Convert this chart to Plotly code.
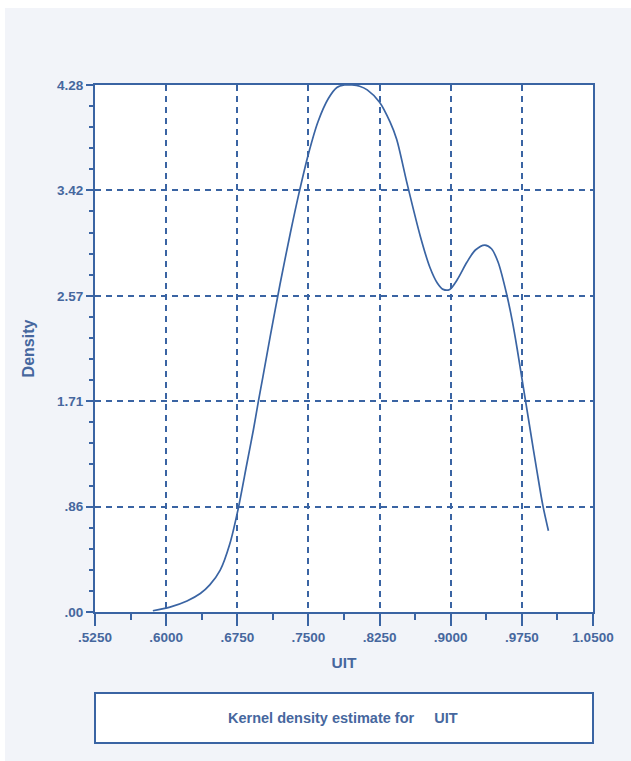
import plotly.graph_objects as go

# Kernel density estimate for UIT
uit = [0.586, 0.604, 0.622, 0.636, 0.646, 0.657, 0.667, 0.676, 0.685, 0.692,
       0.697, 0.702, 0.710, 0.720, 0.731, 0.740, 0.750, 0.760, 0.771, 0.780,
       0.788, 0.796, 0.804, 0.812, 0.825, 0.836, 0.843, 0.854, 0.868, 0.878,
       0.886, 0.892, 0.899, 0.907, 0.917, 0.926, 0.936, 0.943, 0.950, 0.959,
       0.965, 0.970, 0.975, 0.984, 0.991, 0.997, 1.003]
density = [0.01, 0.04, 0.09, 0.15, 0.22, 0.34, 0.55, 0.84, 1.20, 1.48,
           1.70, 1.91, 2.25, 2.66, 3.08, 3.40, 3.72, 3.98, 4.17, 4.26,
           4.28, 4.28, 4.27, 4.24, 4.14, 3.98, 3.84, 3.48, 3.05, 2.80,
           2.67, 2.62, 2.62, 2.70, 2.84, 2.94, 2.98, 2.95, 2.84, 2.58,
           2.36, 2.14, 1.90, 1.47, 1.14, 0.87, 0.66]

x_ticks = [0.525, 0.600, 0.675, 0.750, 0.825, 0.900, 0.975, 1.050]
x_labels = [".5250", ".6000", ".6750", ".7500", ".8250", ".9000", ".9750", "1.0500"]
y_ticks = [0.0, 0.856, 1.712, 2.568, 3.424, 4.28]
y_labels = [".00", ".86", "1.71", "2.57", "3.42", "4.28"]

BLUE = "#3a64a3"
TEXT = "#46679e"
BG = "#f2f4f9"
FONT = "Liberation Sans, Arial, sans-serif"

fig = go.Figure()
fig.add_trace(go.Scatter(x=uit, y=density, mode="lines",
                         line=dict(color=BLUE, width=1.7, shape="spline", smoothing=0.8),
                         showlegend=False, hoverinfo="skip"))

axis_common = dict(showline=True, linecolor=BLUE, linewidth=2, mirror=True,
                   showgrid=True, gridcolor=BLUE, gridwidth=1.7, griddash="6px,5px",
                   zeroline=False, ticks="outside", tickcolor=BLUE, tickwidth=1.6,
                   tickfont=dict(family=FONT, size=13.5, color=TEXT, weight="bold"))

fig.update_layout(
    width=631, height=761,
    margin=dict(l=95, r=38, t=85, b=149),
    paper_bgcolor=BG, plot_bgcolor="white",
    xaxis=dict(range=[0.525, 1.05], tickvals=x_ticks, ticktext=x_labels,
               ticklen=12,
               minor=dict(tick0=0.525, dtick=0.0375, ticklen=6, tickcolor=BLUE,
                          tickwidth=1.6, ticks="outside", showgrid=False),
               title=dict(text="UIT", font=dict(family=FONT, size=15.5, color=TEXT,
                                                weight="bold"),
                          standoff=13),
               **axis_common),
    yaxis=dict(range=[0, 4.28], tickvals=y_ticks, ticktext=y_labels,
               ticklen=7,
               minor=dict(tick0=0, dtick=0.1712, ticklen=4, tickcolor=BLUE,
                          tickwidth=1.6, ticks="outside", showgrid=False),
               title=dict(text="Density", font=dict(family=FONT, size=16, color=TEXT,
                                                    weight="bold"),
                          standoff=18),
               **axis_common),
    shapes=[
        dict(type="rect", xref="paper", yref="paper", x0=-0.20, x1=-0.1807,
             y0=-0.31, y1=1.20, fillcolor="white", line=dict(width=0), layer="below"),
        dict(type="rect", xref="paper", yref="paper", x0=-0.20, x1=1.10,
             y0=1.146, y1=1.20, fillcolor="white", line=dict(width=0), layer="below"),
        dict(type="rect", xref="paper", yref="paper", x0=0, x1=1,
             y0=-0.2486, y1=-0.1537, fillcolor="white",
             line=dict(color=BLUE, width=2)),
    ],
    annotations=[
        dict(text="Kernel density estimate for\u00a0\u00a0\u00a0\u00a0\u00a0UIT",
             xref="paper", yref="paper", x=0.497, y=-0.201, showarrow=False,
             xanchor="center", yanchor="middle",
             font=dict(family=FONT, size=14.5, color=TEXT, weight="bold")),
    ],
)

fig.write_html("out.html")
